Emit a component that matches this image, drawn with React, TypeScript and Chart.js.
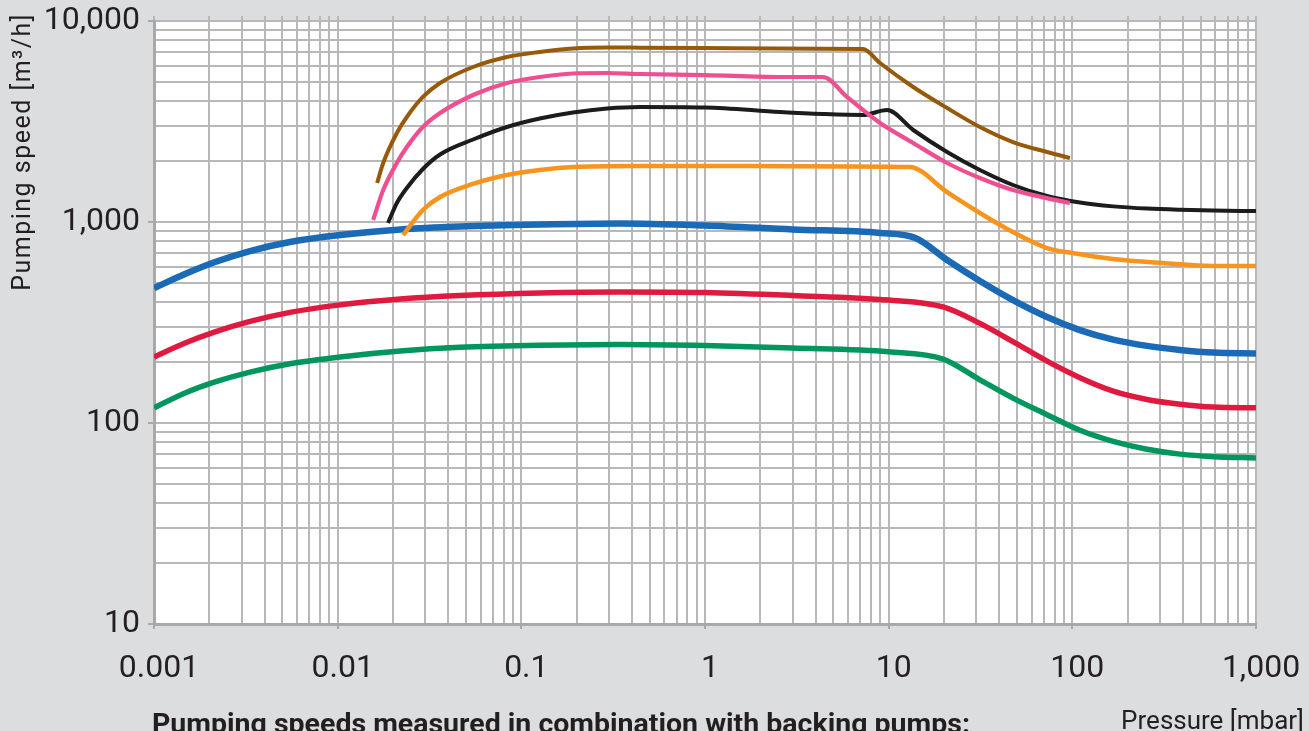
import React, { useEffect, useRef } from "react";
import { Chart, registerables } from "chart.js";

Chart.register(...registerables);

// ---------- axis ticks / labels ----------
const X_TICK_VALUES = [0.001, 0.01, 0.1, 1, 10, 100, 1000];
const X_TICK_LABELS = ["0.001", "0.01", "0.1", "1", "10", "100", "1,000"];
const Y_TICK_VALUES = [10, 100, 1000, 10000];
const Y_TICK_LABELS = ["10", "100", "1,000", "10,000"];

const Y_TITLE = "Pumping speed [m³/h]";
const X_TITLE = "Pressure [mbar]";
const CAPTION = "Pumping speeds measured in combination with backing pumps:";

// ---------- series (pressure [mbar] -> pumping speed [m³/h]) ----------
const BROWN_P = [0.0164, 0.0177, 0.021, 0.0238, 0.0291, 0.0361, 0.0546, 0.0835, 0.126, 0.191, 0.293, 0.443, 1, 2.56, 7.25, 8.97, 13.6, 20.8, 31.4, 47.5, 72.8, 97];
const BROWN_S = [1563, 1966, 2773, 3330, 4188, 4915, 5904, 6622, 7015, 7300, 7380, 7370, 7340, 7290, 7261, 6180, 4695, 3690, 2969, 2500, 2229, 2082];

const PINK_P = [0.0156, 0.0177, 0.021, 0.0238, 0.0291, 0.0361, 0.0546, 0.0835, 0.126, 0.191, 0.293, 0.443, 1, 2.56, 4.39, 5.93, 7.25, 8.97, 13.6, 20.8, 31.4, 47.5, 72.8, 97];
const PINK_S = [1023, 1442, 1966, 2360, 2969, 3485, 4285, 4915, 5265, 5480, 5511, 5448, 5385, 5265, 5265, 4187, 3607, 3108, 2472, 1966, 1655, 1442, 1315, 1243];

const BLACK_P = [0.0188, 0.021, 0.0238, 0.0291, 0.0361, 0.0546, 0.0835, 0.126, 0.191, 0.293, 0.443, 1, 2.56, 4.39, 7.25, 9.8, 13.6, 20.8, 31.4, 47.5, 72.8, 110, 167, 255, 386, 584, 1000];
const BLACK_S = [989, 1243, 1476, 1835, 2167, 2573, 2970, 3273, 3506, 3670, 3734, 3713, 3524, 3444, 3406, 3607, 2869, 2230, 1814, 1528, 1347, 1250, 1196, 1166, 1150, 1140, 1134];

const ORANGE_P = [0.0227, 0.0291, 0.0361, 0.0546, 0.0835, 0.126, 0.191, 0.443, 1, 3, 13, 20.8, 31.4, 47.5, 72.8, 100, 166, 312, 583, 1000];
const ORANGE_S = [861, 1147, 1331, 1546, 1712, 1814, 1877, 1899, 1900, 1895, 1877, 1409, 1109, 891, 742, 701, 655, 625, 604, 604];

const BLUE_P = [0.001, 0.001475, 0.00215, 0.00333, 0.0055, 0.0103, 0.0219, 0.0463, 0.126, 0.345, 1, 3, 9, 14, 20.8, 31.4, 47.5, 72.8, 110, 167, 255, 386, 584, 1000];
const BLUE_S = [469, 551, 632, 717, 795, 861, 918, 950, 972, 983, 960, 918, 882, 832, 647, 509, 409, 337, 290, 260, 242, 231, 224, 222];

const RED_P = [0.001, 0.001475, 0.00215, 0.00333, 0.0055, 0.0103, 0.0219, 0.0463, 0.126, 0.345, 1, 2.98, 10, 19.8, 31.4, 47.5, 72.8, 110, 167, 255, 386, 584, 1000];
const RED_S = [213, 250, 284, 320, 355, 387, 414, 431, 444, 449, 446, 431, 409, 378, 313, 254, 203, 168, 144, 131, 124, 120, 119];

const GREEN_P = [0.001, 0.001475, 0.00215, 0.00333, 0.0055, 0.0103, 0.0219, 0.0463, 0.126, 0.345, 1, 2.98, 10, 19.8, 31.4, 47.5, 72.8, 110, 167, 255, 386, 584, 1000];
const GREEN_S = [119, 141, 160, 179, 197, 213, 228, 238, 244, 246, 243, 236, 226, 208, 164, 133, 110, 92, 81, 74, 70, 68, 67];

// ---------- styles ----------
const PAGE_BG = "#dcddde";
const GRID = "#b8b8b8";
const AXIS = "#a9a9a9";
const TEXT = "#231f20";
const FONT = "Roboto";

const W = 1309;
const H = 731;

function logGrid(decades: number[]): number[] {
  const out: number[] = [];
  for (let i = 0; i < decades.length - 1; i++) {
    for (let m = 1; m <= 9; m++) out.push(Number((m * decades[i]).toPrecision(6)));
  }
  out.push(decades[decades.length - 1]);
  return out;
}

const X_GRID = logGrid(X_TICK_VALUES);
const Y_GRID = logGrid(Y_TICK_VALUES);

function findIdx(v: number, list: number[]): number {
  for (let i = 0; i < list.length; i++) {
    if (Math.abs(Math.log10(v) - Math.log10(list[i])) < 1e-6) return i;
  }
  return -1;
}

function pts(p: number[], s: number[]) {
  return p.map((x, i) => ({ x, y: s[i] }));
}

const bgPlugin = {
  id: "bgPlugin",
  beforeDraw(chart: any) {
    const { ctx, chartArea: a, width, height } = chart;
    ctx.save();
    ctx.fillStyle = PAGE_BG;
    ctx.fillRect(0, 0, width, height);
    ctx.fillStyle = "#ffffff";
    ctx.fillRect(a.left, a.top, a.right - a.left, a.bottom - a.top);
    ctx.restore();
  },
};

const textPlugin = {
  id: "textPlugin",
  afterDraw(chart: any) {
    const ctx = chart.ctx as CanvasRenderingContext2D;
    ctx.save();
    ctx.fillStyle = TEXT;

    // vertical axis title, top-aligned
    ctx.save();
    ctx.translate(24, 13);
    ctx.rotate(-Math.PI / 2);
    ctx.font = `25px ${FONT}`;
    (ctx as any).letterSpacing = "1.5px";
    ctx.textAlign = "right";
    ctx.textBaseline = "middle";
    ctx.fillText(Y_TITLE, 0, 0);
    ctx.restore();

    // horizontal axis title, bottom-right
    ctx.font = `26px ${FONT}`;
    ctx.textAlign = "right";
    ctx.textBaseline = "alphabetic";
    ctx.fillText(X_TITLE, 1304, 729);

    // caption (cut by the picture's bottom edge)
    ctx.font = `bold 28.5px ${FONT}`;
    ctx.textAlign = "left";
    ctx.fillText(CAPTION, 152, 733);
    ctx.restore();
  },
};

function zeroPad(s: any) {
  s.paddingLeft = 0;
  s.paddingRight = 0;
  s.paddingTop = 0;
  s.paddingBottom = 0;
}

export default function App() {
  const ref = useRef<HTMLCanvasElement | null>(null);

  useEffect(() => {
    if (!ref.current) return;
    const line = (data: any, color: string, width: number) => ({
      data,
      borderColor: color,
      backgroundColor: color,
      borderWidth: width,
      pointRadius: 0,
      pointHoverRadius: 0,
      fill: false,
      cubicInterpolationMode: "monotone" as const,
      borderJoinStyle: "round" as const,
      xAxisID: "x",
      yAxisID: "y",
    });

    const chart = new Chart(ref.current, {
      type: "line",
      data: {
        datasets: [
          line(pts(PINK_P, PINK_S), "#ef4f91", 4.2),
          line(pts(ORANGE_P, ORANGE_S), "#f7941e", 4.5),
          line(pts(BROWN_P, BROWN_S), "#975a0b", 4),
          line(pts(BLACK_P, BLACK_S), "#1c1c1c", 4),
          line(pts(BLUE_P, BLUE_S), "#1a6ab5", 6.5),
          line(pts(RED_P, RED_S), "#e0193f", 5.5),
          line(pts(GREEN_P, GREEN_S), "#00965e", 5.5),
        ],
      },
      options: {
        responsive: false,
        animation: false,
        devicePixelRatio: 1,
        layout: { padding: { left: 0, right: W - 1256, top: 16, bottom: 0 } },
        plugins: {
          legend: { display: false },
          tooltip: { enabled: false },
        },
        events: [],
        scales: {
          x: {
            type: "logarithmic",
            position: "bottom",
            min: X_TICK_VALUES[0],
            max: X_TICK_VALUES[X_TICK_VALUES.length - 1],
            afterBuildTicks: (s: any) => {
              s.ticks = X_GRID.map((v) => ({ value: v }));
            },
            afterFit: (s: any) => {
              s.height = H - 624;
              zeroPad(s);
            },
            grid: {
              color: GRID,
              lineWidth: 2,
              drawTicks: true,
              tickLength: 5,
              tickWidth: 2,
              tickColor: (c: any) =>
                c.tick && findIdx(c.tick.value, X_TICK_VALUES) >= 0 ? AXIS : "rgba(0,0,0,0)",
            },
            border: { display: true, color: AXIS, width: 3 },
            ticks: {
              autoSkip: false,
              maxRotation: 0,
              minRotation: 0,
              padding: 21,
              labelOffset: 5,
              color: TEXT,
              font: { family: FONT, size: 32 },
              callback: (v: any) => {
                const i = findIdx(Number(v), X_TICK_VALUES);
                return i >= 0 ? X_TICK_LABELS[i] : "";
              },
            },
          },
          xTop: {
            type: "logarithmic",
            position: "top",
            min: X_TICK_VALUES[0],
            max: X_TICK_VALUES[X_TICK_VALUES.length - 1],
            afterBuildTicks: (s: any) => {
              s.ticks = X_GRID.map((v) => ({ value: v }));
            },
            afterFit: (s: any) => {
              s.height = 5;
              zeroPad(s);
            },
            grid: {
              color: GRID,
              lineWidth: 2,
              drawOnChartArea: false,
              drawTicks: true,
              tickLength: 5,
            },
            border: { display: false },
            ticks: { display: false, autoSkip: false },
          },
          y: {
            type: "logarithmic",
            position: "left",
            min: Y_TICK_VALUES[0],
            max: Y_TICK_VALUES[Y_TICK_VALUES.length - 1],
            afterBuildTicks: (s: any) => {
              s.ticks = Y_GRID.map((v) => ({ value: v }));
            },
            afterFit: (s: any) => {
              s.width = 154;
              zeroPad(s);
            },
            grid: {
              color: GRID,
              lineWidth: 2,
              drawTicks: true,
              tickLength: 6,
              tickWidth: 2,
              tickColor: (c: any) =>
                c.tick && findIdx(c.tick.value, Y_TICK_VALUES) >= 0 ? AXIS : "rgba(0,0,0,0)",
            },
            border: { display: true, color: AXIS, width: 3 },
            ticks: {
              autoSkip: false,
              padding: 8,
              color: TEXT,
              font: { family: FONT, size: 32 },
              callback: (v: any) => {
                const i = findIdx(Number(v), Y_TICK_VALUES);
                return i >= 0 ? Y_TICK_LABELS[i] : "";
              },
            },
          },
        },
      } as any,
      plugins: [bgPlugin, textPlugin],
    });

    return () => chart.destroy();
  }, []);

  return (
    <div style={{ position: "absolute", left: 0, top: 0, width: W, height: H, overflow: "hidden" }}>
      <canvas ref={ref} width={W} height={H} style={{ width: W, height: H, display: "block" }} />
    </div>
  );
}
